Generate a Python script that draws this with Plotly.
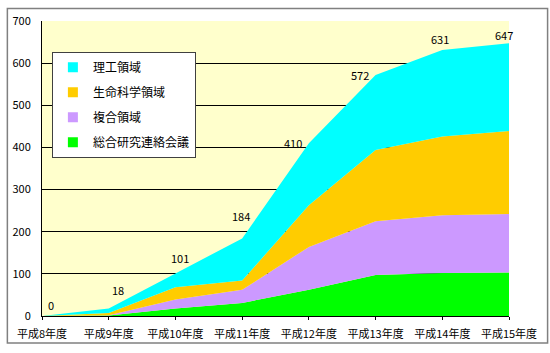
import plotly.graph_objects as go

years = ["平成8年度", "平成9年度", "平成10年度", "平成11年度", "平成12年度", "平成13年度", "平成14年度", "平成15年度"]
soken = [0, 1, 18, 31, 62, 97, 102, 103]        # 総合研究連絡会議
fukugo = [0, 1, 21, 31, 102, 128, 137, 139]     # 複合領域
seimei = [0, 5, 29, 22, 99, 169, 187, 197]      # 生命科学領域
riko = [0, 11, 33, 100, 147, 178, 205, 208]     # 理工領域
totals = [0, 18, 101, 184, 410, 572, 631, 647]

series = [
    ("総合研究連絡会議", soken, "#00FF00"),
    ("複合領域", fukugo, "#CC99FF"),
    ("生命科学領域", seimei, "#FFCC00"),
    ("理工領域", riko, "#00FFFF"),
]

FONT = "Noto Sans CJK JP"
fig = go.Figure()
for name, vals, col in series:
    fig.add_trace(go.Scatter(
        x=years, y=vals, name=name, stackgroup="one", mode="lines",
        line=dict(width=0, color=col), fillcolor=col, showlegend=False,
        hoverinfo="x+y+name",
    ))
# legend entries (square markers), top to bottom: 理工, 生命科学, 複合, 総合
for i, (name, vals, col) in enumerate(reversed(series)):
    fig.add_trace(go.Scatter(
        x=[None], y=[None], name=name, mode="markers",
        marker=dict(symbol="square", size=10, color=col),
        legendgroup=f"g{i}", showlegend=True,
    ))

# label offsets (px) mimicking the original's label placement
offsets = [(9, 11), (9, 18), (5, 15), (-1, 22), (-16, 0), (-16, 0), (-2, 11), (-5, 8)]
for cat, tot, (dx, dy) in zip(years, totals, offsets):
    fig.add_annotation(x=cat, y=tot, text=str(tot), showarrow=False,
                       xshift=dx, yshift=dy, font=dict(family=FONT, size=11, color="#000"))

fig.add_shape(type="rect", xref="paper", yref="paper",
              x0=(2 - 37) / 472, x1=(548 - 37) / 472,
              y0=(322 - 350) / 307, y1=(322 - 2) / 307,
              line=dict(color="#808080", width=1.5), fillcolor="rgba(0,0,0,0)", layer="below")

fig.update_layout(
    width=550, height=353,
    margin=dict(l=37, r=41, t=15, b=31),
    paper_bgcolor="white", plot_bgcolor="#FFFFCC",
    font=dict(family=FONT, size=11, color="#000"),
    showlegend=True,
    legend=dict(x=(47 - 37) / 472, y=(322 - 47) / 307, xanchor="left", yanchor="top",
                bgcolor="white", bordercolor="#404040", borderwidth=1,
                font=dict(family=FONT, size=12, color="#000"),
                traceorder="grouped", tracegroupgap=6),
    xaxis=dict(type="category", range=[0, 7], showgrid=False, showline=True,
               linecolor="#000", linewidth=1, ticks="outside", ticklen=3, tickcolor="#000",
               ticklabelstandoff=5, tickfont=dict(family=FONT, size=11)),
    yaxis=dict(range=[0, 700], dtick=100, showgrid=True, gridcolor="#000", gridwidth=1,
               showline=True, linecolor="#000", linewidth=1, ticks="", zeroline=False,
               ticklabelstandoff=8, tickfont=dict(family=FONT, size=11)),
)

fig.write_html("out.html")
